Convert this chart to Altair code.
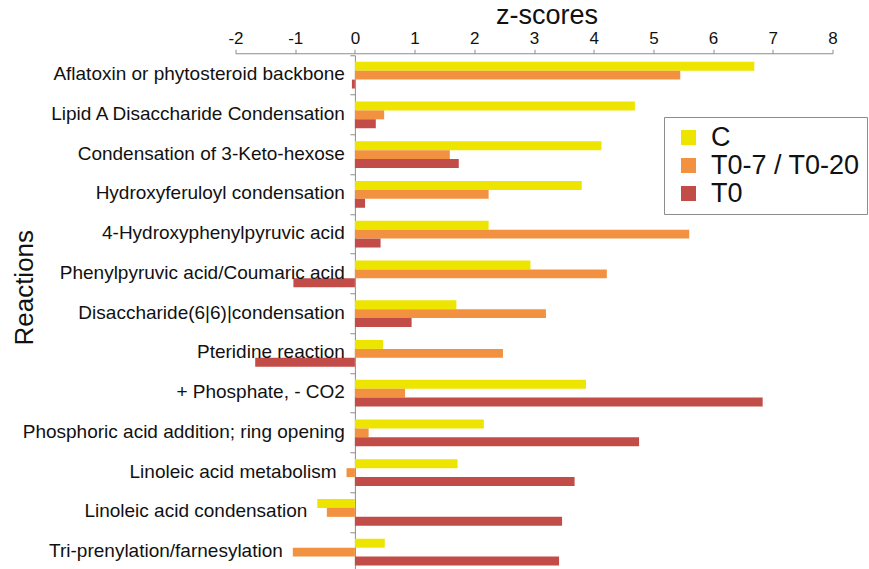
import altair as alt
import pandas as pd

# Reactions, top to bottom
reactions = [
    "Aflatoxin or phytosteroid backbone",
    "Lipid A Disaccharide Condensation",
    "Condensation of 3-Keto-hexose",
    "Hydroxyferuloyl condensation",
    "4-Hydroxyphenylpyruvic acid",
    "Phenylpyruvic acid/Coumaric acid",
    "Disaccharide(6|6)|condensation",
    "Pteridine reaction",
    "+ Phosphate, - CO2",
    "Phosphoric acid addition; ring opening",
    "Linoleic acid metabolism",
    "Linoleic acid condensation",
    "Tri-prenylation/farnesylation",
]

series_names = ["C", "T0-7 / T0-20", "T0"]
series_colors = ["#EDE500", "#F29140", "#C24D48"]

# z-scores per series
z_c = [6.69, 4.69, 4.13, 3.80, 2.24, 2.94, 1.70, 0.47, 3.87, 2.16, 1.72, -0.63, 0.50]
z_t07 = [5.45, 0.49, 1.59, 2.24, 5.60, 4.22, 3.20, 2.48, 0.84, 0.23, -0.14, -0.47, -1.04]
z_t0 = [-0.05, 0.35, 1.74, 0.17, 0.43, -1.03, 0.95, -1.67, 6.83, 4.76, 3.68, 3.47, 3.42]

x_ticks = list(range(-2, 9))

# Row labels sit just left of the leftmost of the two upper bars (or of zero)
anchors = [min(0.0, c, t) for c, t in zip(z_c, z_t07)]

rows = []
for name, vals in zip(series_names, [z_c, z_t07, z_t0]):
    for r, v, a in zip(reactions, vals, anchors):
        rows.append({"reaction": r, "series": name, "z": v, "anchor": a})
df = pd.DataFrame(rows)

FONT = "Liberation Sans"
W = 597
H = 513.75
STEP = 39.75
Y_RANGE = [0, STEP * len(reactions)]
GREY = "#8c8c8c"

x_axis = alt.Axis(
    orient="top",
    values=x_ticks,
    labelExpr="'' + datum.value",
    offset=2,
    grid=False,
    tickSize=4,
    tickColor=GREY,
    domainColor=GREY,
    labelFont=FONT,
    labelFontSize=17,
    labelColor="#111111",
    labelPadding=2,
    labelFlush=False,
    title="z-scores",
    titleFont=FONT,
    titleFontSize=27,
    titleFontWeight="normal",
    titleColor="#111111",
    titleBaseline="alphabetic",
    titleX=311,
    titleY=-30,
)

y_axis = alt.Axis(
    orient="left",
    offset=-W * 0.2,
    labels=False,
    bandPosition=0,
    grid=False,
    ticks=True,
    tickSize=5,
    tickColor=GREY,
    domainColor=GREY,
    title="Reactions",
    titleFont=FONT,
    titleFontSize=26,
    titleFontWeight="normal",
    titleColor="#111111",
    titleAngle=270,
    titleAlign="center",
    titleBaseline="middle",
    titleX=-(235.5 + W * 0.2 - 24),
    titleY=232,
)

x_scale = alt.Scale(domain=[-2, 8], nice=False)
y_scale = alt.Scale(domain=reactions, paddingInner=0, paddingOuter=0, range=Y_RANGE)

base = alt.Chart(df)

bars = base.mark_bar(opacity=1).encode(
    x=alt.X("z:Q", scale=x_scale, axis=x_axis),
    y=alt.Y("reaction:N", scale=y_scale, axis=y_axis),
    yOffset=alt.YOffset(
        "series:N",
        sort=series_names,
        scale=alt.Scale(paddingInner=0, paddingOuter=0.725),
    ),
    color=alt.Color(
        "series:N",
        sort=series_names,
        scale=alt.Scale(domain=series_names, range=series_colors),
        legend=alt.Legend(
            title=None,
            orient="none",
            legendX=428.5,
            legendY=61.75,
            symbolType="square",
            symbolSize=225,
            symbolStrokeWidth=0,
            symbolOpacity=1,
            symbolOffset=4,
            labelFont=FONT,
            labelFontSize=27,
            labelColor="#111111",
            labelOffset=9,
            labelLimit=300,
            rowPadding=0,
            padding=7,
            strokeColor=GREY,
            fillColor="white",
        ),
    ),
)

row_labels = base.transform_filter(
    alt.datum.series == "C"
).mark_text(
    align="right",
    baseline="alphabetic",
    dx=-10,
    dy=5,
    font=FONT,
    fontSize=19,
).encode(
    x=alt.X("anchor:Q", scale=x_scale, axis=x_axis),
    y=alt.Y("reaction:N", scale=y_scale, axis=y_axis, bandPosition=0.5),
    text=alt.Text("reaction:N"),
    color=alt.value("#111111"),
)

chart = (
    alt.layer(bars, row_labels)
    .properties(
        width=W,
        height=H,
        background="white",
        autosize=alt.AutoSizeParams(type="none"),
        padding={"left": 235.5, "top": 55.25, "right": 36.5, "bottom": 0},
    )
    .configure_view(stroke=None)
)

chart.save("out.html", embed_options={"renderer": "svg", "actions": False})
